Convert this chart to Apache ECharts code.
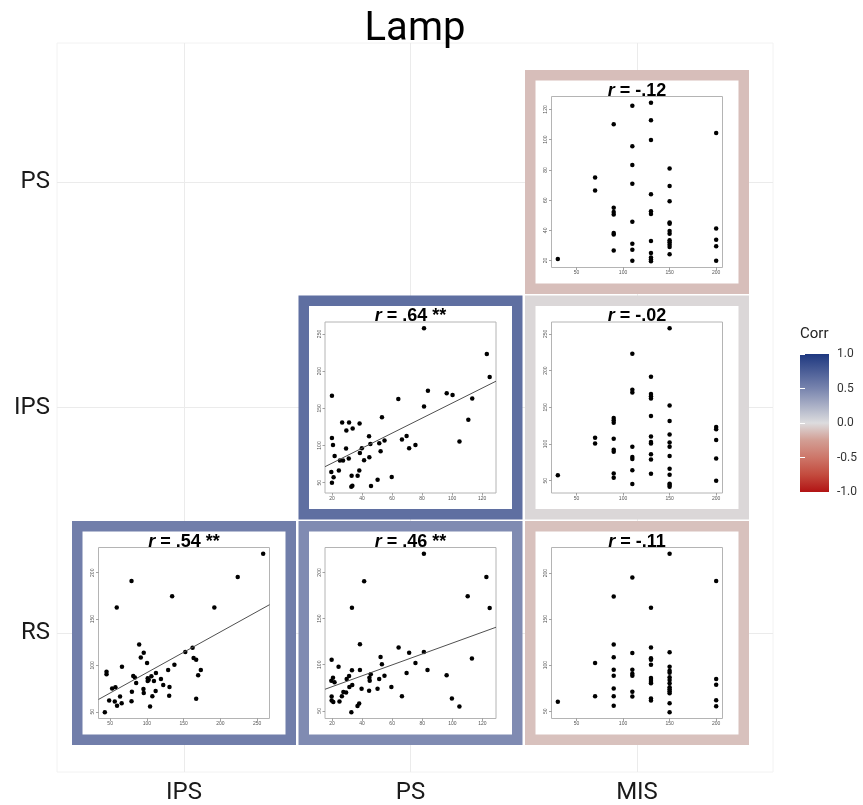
<!DOCTYPE html>
<html>
<head>
<meta charset="utf-8">
<script src="https://cdn.jsdelivr.net/npm/echarts@6/dist/echarts.min.js"></script>
<style>
html,body{margin:0;padding:0;background:#fff}
#main{width:863px;height:805px}
</style>
</head>
<body>
<div id="main"></div>
<script>
// variables of the correlation matrix
var colVars = ['IPS', 'PS', 'MIS'];
var rowVars = ['RS', 'IPS', 'PS']; // bottom to top

// tick labels of the small plots
var misTicks = [50, 100, 150, 200];
var psTicks = [20, 40, 60, 80, 100, 120];
var ipsTicks = [50, 100, 150, 200, 250];
var rsTicks = [50, 100, 150, 200];
var corrTicks = [-1, -0.5, 0, 0.5, 1];

// r per panel: PS~MIS, IPS~PS, IPS~MIS, RS~IPS, RS~PS, RS~MIS
var corrValues = [-0.12, 0.64, -0.02, 0.54, 0.46, -0.11];
var corrStars = ['', '**', '', '**', '**', ''];

// [x, y] points
var psVsMis = [[30,21],[70,75],[70,66.3],[90,110.3],[90,54.9],[90,52.2],[90,50.5],[90,38.2],[90,37.3],[90,26.6],
  [110,122.4],[110,95.7],[110,83.2],[110,70.9],[110,45.7],[110,31.2],[110,27.2],[110,19.8],
  [130,124.4],[130,112.8],[130,99.8],[130,63.9],[130,52.7],[130,50.9],[130,32.9],[130,25],[130,22],[130,20.7],[130,19.6],
  [150,81],[150,69.3],[150,59.3],[150,45.2],[150,44.3],[150,39.5],[150,37.8],[150,33.4],[150,32.1],[150,30.5],[150,29],[150,24.2],
  [200,104.4],[200,41.3],[200,33.8],[200,29.4],[200,19.8]];

var ipsVsPs = [[20,166.9],[20,110.2],[20.7,100.8],[21.8,86],[19.6,64.4],[21.1,57.2],[20,50],[24.6,66.2],[25.3,79.7],[27.4,79.7],
  [26.8,130.9],[29.6,120.1],[29.4,95.8],[31.4,130.9],[31.2,82.4],[33.8,122.8],[33.1,59.4],[32.9,44.6],[33.6,46],[37.1,59.4],
  [38.4,129.6],[38.6,90],[38.2,66.2],[39.9,96.3],[41.4,80.1],[44.7,112.5],[45.6,102.1],[44.9,84.2],[46,45.5],[50.4,54],
  [51.5,103],[52.4,92.2],[53.3,138.1],[55,106.6],[59.8,57.6],[64.2,162.4],[66.6,108],[69.7,112.9],[71.4,96.3],[75.6,100.8],
  [81.3,152.5],[81.3,257.6],[83.9,173.6],[96.4,170.4],[100.3,167.8],[104.9,105.3],[110.8,134.5],[113.4,163.3],[123.1,223],[125,192]];

var ipsVsMis = [[30,57.6],[70,108.4],[70,100.8],
  [90,135.4],[90,132.2],[90,129.1],[90,107],[90,92.2],[90,89.5],[90,59.9],[90,54],
  [110,223],[110,174],[110,170],[110,96.3],[110,82.3],[110,79.6],[110,64.4],[110,45.5],
  [130,191.5],[130,168.1],[130,165],[130,161.9],[130,138],[130,110.2],[130,102.6],[130,100.8],[130,85.9],[130,78.8],[130,59.4],
  [150,257.5],[150,152.4],[150,131.3],[150,112.9],[150,102.1],[150,96.3],[150,83.7],[150,66.2],[150,58.1],[150,46],[150,44.2],[150,41.9],
  [200,123.2],[200,120.1],[200,105.3],[200,80.1],[200,50]];

var rsVsIps = [[42.8,49.6],[45.1,93.3],[45.1,90.4],[48.7,62.2],[52.7,75.1],[57.2,76.5],[56.3,61.1],[59.4,56.4],[59,162.4],[63.5,66.5],
  [65.7,59.3],[66.1,98.7],[79.1,191],[79.1,61.5],[79.6,71.5],[81.4,88.7],[83.6,86.9],[85.4,81.1],[89.5,122.7],[91.7,108.7],
  [95.7,113.7],[95.3,74.7],[95.7,70.4],[100.2,102.6],[101.1,86.1],[101.1,83.3],[102.5,84.7],[106.1,88.3],[104.3,55.7],[107.4,66.8],
  [109.6,83.3],[112.3,91.9],[111.9,72.5],[119.1,85.4],[122.2,79],[128.9,95.1],[130.7,76.8],[130.3,67.2],[134.3,174.6],[137.4,100.8],
  [152.2,114.4],[162.1,119.1],[163.5,108],[167,106.2],[167,64],[169.7,89.4],[173.3,95.1],[191.7,162.4],[223.5,195.3],[258.1,220.4]];

var rsVsPs = [[19.8,105.4],[19.6,82.7],[20.7,86],[21.7,80.9],[19.8,65.5],[19.8,61.2],[20.9,59.7],[24.4,97.8],[25,60.1],[26.6,65.8],
  [27.6,70.5],[29.4,69.8],[29.8,84.5],[31.4,87.8],[31.6,75.9],[33.3,93.9],[33.3,161.9],[33.5,78],[32.9,48.6],[37,55.4],
  [38.1,57.9],[38.6,122.3],[38.6,94.2],[39.7,74.1],[41.4,190.6],[44.9,86],[45.8,89.6],[45.1,82.7],[44.7,71.9],[50.3,74.1],
  [51.4,84.5],[52.3,108.3],[53.2,100.4],[54.9,88.1],[59.5,75.9],[64.3,118.7],[66.5,65.8],[69.6,91],[71.3,113],[75.5,101.8],
  [81.1,220.2],[81.1,113.7],[83.5,94.2],[96.2,88.5],[99.7,63.3],[104.7,54.7],[110.2,174.1],[113,106.8],[122.6,195],[124.8,161.5]];

var rsVsMis = [[30,60.1],[70,102.2],[70,66.2],
  [90,174.5],[90,122.3],[90,108.6],[90,95],[90,88.5],[90,74.5],[90,66.2],[90,55.8],
  [110,195.3],[110,113.3],[110,95],[110,90.6],[110,88.5],[110,71.2],[110,65.8],
  [130,162.2],[130,119.1],[130,107.6],[130,105.8],[130,100.4],[130,86],[130,83.8],[130,81.7],[130,80.2],[130,63.7],[130,61.5],
  [150,220.9],[150,114],[150,98.2],[150,93.9],[150,91.7],[150,86.7],[150,83.8],[150,80.2],[150,75.9],[150,73.7],[150,71.6],[150,69.4],[150,58.6],[150,48.9],
  [200,191.4],[200,84.9],[200,78.8],[200,61.9],[200,55.4]];

var panels = [
  {data: psVsMis,  col: 2, row: 2, xTicks: misTicks, yTicks: psTicks,  fit: false},
  {data: ipsVsPs,  col: 1, row: 1, xTicks: psTicks,  yTicks: ipsTicks, fit: true},
  {data: ipsVsMis, col: 2, row: 1, xTicks: misTicks, yTicks: ipsTicks, fit: false},
  {data: rsVsIps,  col: 0, row: 0, xTicks: ipsTicks, yTicks: rsTicks,  fit: true},
  {data: rsVsPs,   col: 1, row: 0, xTicks: psTicks,  yTicks: rsTicks,  fit: true},
  {data: rsVsMis,  col: 2, row: 0, xTicks: misTicks, yTicks: rsTicks,  fit: false}
];

// colour scale of the Corr legend (value, rgb)
var corrStops = [
  [-1, [178, 20, 20]],
  [-0.75, [195, 75, 62]],
  [-0.5, [205, 118, 105]],
  [-0.25, [210, 158, 148]],
  [0, [220, 220, 222]],
  [0.5, [120, 132, 174]],
  [1, [30, 56, 128]]
];

// layout: the matrix cells sit on these pixel centres
var colCenter = [184, 410.5, 637];
var rowCenter = [633, 407.5, 182];
var cellSize = 224, frameWidth = 10.5, boxInset = 26.5;

function corrColor(v) {
  for (var i = 1; i < corrStops.length; i++) {
    var a = corrStops[i - 1], b = corrStops[i];
    if (v <= b[0]) {
      var t = (v - a[0]) / (b[0] - a[0]);
      var c = [0, 1, 2].map(function (k) { return Math.round(a[1][k] + t * (b[1][k] - a[1][k])); });
      return 'rgb(' + c.join(',') + ')';
    }
  }
  return 'rgb(' + corrStops[corrStops.length - 1][1].join(',') + ')';
}

function fmtCorr(v) {
  var s = Math.abs(v).toFixed(2).slice(1);
  return (v < 0 ? '-' : '') + s;
}

// R style axis range: data range stretched by 4% each side
function padRange(vals) {
  var lo = Math.min.apply(null, vals), hi = Math.max.apply(null, vals);
  var d = (hi - lo) * 0.04;
  return [lo - d, hi + d];
}

// least squares line
function fitLine(pts) {
  var n = pts.length, sx = 0, sy = 0, sxx = 0, sxy = 0;
  pts.forEach(function (p) { sx += p[0]; sy += p[1]; sxx += p[0] * p[0]; sxy += p[0] * p[1]; });
  var b = (n * sxy - sx * sy) / (n * sxx - sx * sx);
  return [(sy - b * sx) / n, b];
}

var chart = echarts.init(document.getElementById('main'));

var grids = [], xAxes = [], yAxes = [], series = [];
var titles = [
  {text: 'Lamp', left: 415, top: 30, textAlign: 'center', textVerticalAlign: 'middle', padding: 0,
   textStyle: {fontSize: 40, fontWeight: 'normal', color: '#000', fontFamily: 'Roboto'}},
  {text: 'Corr', left: 800, top: 334, textAlign: 'left', textVerticalAlign: 'middle', padding: 0,
   textStyle: {fontSize: 15, fontWeight: 'normal', color: '#222', fontFamily: 'Roboto'}}
];

function addGrid(g) {
  g.outerBoundsMode = 'none';
  g.containLabel = false;
  grids.push(g);
  return grids.length - 1;
}

// 0: vertical grid lines + column names
addGrid({left: colCenter[0] - 226.5, top: 43, width: 906, height: 729, z: 0});
xAxes.push({gridIndex: 0, type: 'value', min: 0, max: 4, interval: 1, z: 0,
  axisLine: {show: false}, axisTick: {show: false},
  splitLine: {show: true, lineStyle: {color: '#ebebeb', width: 1}},
  axisLabel: {margin: 9, fontSize: 24, color: '#1a1a1a', fontFamily: 'Roboto',
    formatter: function (v) { return colVars[v - 1] || ''; }}});
yAxes.push({gridIndex: 0, type: 'value', min: 0, max: 1, show: false});

// 1: horizontal grid lines + row names
addGrid({left: 57, top: rowCenter[2] - 225.5, width: 716, height: 902, z: 0});
xAxes.push({gridIndex: 1, type: 'value', min: 0, max: 1, show: false});
yAxes.push({gridIndex: 1, type: 'value', min: 0, max: 4, interval: 1, z: 0,
  axisLine: {show: false}, axisTick: {show: false},
  splitLine: {show: true, lineStyle: {color: '#ebebeb', width: 1}},
  axisLabel: {margin: 7, fontSize: 24, color: '#1a1a1a', fontFamily: 'Roboto',
    formatter: function (v) { return rowVars[v - 1] || ''; }}});

// 2: faint panel border
addGrid({left: 57, top: 43, width: 716, height: 729, show: true, borderColor: '#f2f2f2', borderWidth: 1,
  backgroundColor: 'transparent', z: 0});
xAxes.push({gridIndex: 2, type: 'value', show: false});
yAxes.push({gridIndex: 2, type: 'value', show: false});

// 3: Corr colour bar
var barStops = corrStops.slice().reverse().map(function (s) {
  return {offset: (1 - s[0]) / 2, color: 'rgb(' + s[1].join(',') + ')'};
});
addGrid({left: 800, top: 354, width: 29, height: 138, show: true, borderWidth: 0,
  backgroundColor: new echarts.graphic.LinearGradient(0, 0, 0, 1, barStops), z: 1});
xAxes.push({gridIndex: 3, type: 'value', show: false});
yAxes.push({gridIndex: 3, type: 'value', min: -1, max: 1, interval: 0.5, position: 'right', z: 2,
  axisLine: {show: false}, splitLine: {show: false},
  axisTick: {show: true, inside: true, length: 5, lineStyle: {color: '#fff', width: 1}},
  axisLabel: {margin: 8, fontSize: 12, color: '#333', fontFamily: 'Roboto',
    formatter: function (v) { return v.toFixed(1); }}});
yAxes.push({gridIndex: 3, type: 'value', min: -1, max: 1, interval: 0.5, position: 'left', z: 2,
  axisLine: {show: false}, splitLine: {show: false}, axisLabel: {show: false},
  axisTick: {show: true, inside: true, length: 5, lineStyle: {color: '#fff', width: 1}}});

panels.forEach(function (p, i) {
  var x0 = colCenter[p.col] - cellSize / 2, y0 = rowCenter[p.row] - cellSize / 2;
  var r = corrValues[i];

  // coloured frame
  var gFrame = addGrid({left: x0 + frameWidth / 2, top: y0 + frameWidth / 2,
    width: cellSize - frameWidth, height: cellSize - frameWidth,
    show: true, borderWidth: frameWidth, borderColor: corrColor(r), backgroundColor: '#fff', z: 2});
  xAxes.push({gridIndex: gFrame, type: 'value', show: false});
  yAxes.push({gridIndex: gFrame, type: 'value', show: false});

  // scatter box
  var boxSize = cellSize - 2 * boxInset;
  var gBox = addGrid({left: x0 + boxInset, top: y0 + boxInset, width: boxSize, height: boxSize,
    show: true, borderColor: '#b4b4b4', borderWidth: 1, backgroundColor: 'transparent', z: 3});
  var xr = padRange(p.data.map(function (d) { return d[0]; }));
  var yr = padRange(p.data.map(function (d) { return d[1]; }));
  var xi = xAxes.length, yi = yAxes.length;
  xAxes.push({gridIndex: gBox, type: 'value', min: xr[0], max: xr[1], z: 3,
    axisLine: {show: false}, splitLine: {show: false},
    axisTick: {show: true, length: 2.5, customValues: p.xTicks, lineStyle: {color: '#8c8c8c', width: 0.8}},
    axisLabel: {customValues: p.xTicks, margin: 3, fontSize: 5, color: '#555', fontFamily: 'Liberation Sans'}});
  yAxes.push({gridIndex: gBox, type: 'value', min: yr[0], max: yr[1], z: 3,
    axisLine: {show: false}, splitLine: {show: false},
    axisTick: {show: true, length: 2.5, customValues: p.yTicks, lineStyle: {color: '#8c8c8c', width: 0.8}},
    axisLabel: {customValues: p.yTicks, rotate: 90, margin: 3, fontSize: 5, color: '#555', fontFamily: 'Liberation Sans'}});

  series.push({type: 'scatter', xAxisIndex: xi, yAxisIndex: yi, data: p.data, z: 4,
    symbolSize: 4.5, itemStyle: {color: '#000', opacity: 1}, silent: true});

  if (p.fit) {
    var ab = fitLine(p.data);
    series.push({type: 'line', xAxisIndex: xi, yAxisIndex: yi, z: 5, symbol: 'none', silent: true,
      data: [[xr[0], ab[0] + ab[1] * xr[0]], [xr[1], ab[0] + ab[1] * xr[1]]],
      lineStyle: {color: '#505050', width: 1}});
  }

  titles.push({
    text: '{i|r} = ' + fmtCorr(r) + (corrStars[i] ? ' ' + corrStars[i] : ''),
    left: colCenter[p.col], top: y0 + 21, textAlign: 'center', textVerticalAlign: 'middle', padding: 0,
    textStyle: {fontSize: 18, fontWeight: 'bold', color: '#000', fontFamily: 'Liberation Sans',
      rich: {i: {fontSize: 18, fontWeight: 'bold', fontStyle: 'italic', color: '#000', fontFamily: 'Liberation Sans'}}}
  });
});

var option = {
  backgroundColor: '#fff',
  animation: false,
  title: titles,
  grid: grids,
  xAxis: xAxes,
  yAxis: yAxes,
  series: series
};
chart.setOption(option);
</script>
</body>
</html>
